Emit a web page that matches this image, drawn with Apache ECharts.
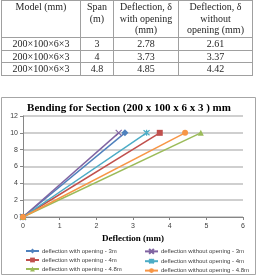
<!DOCTYPE html>
<html><head><meta charset="utf-8">
<script src="https://cdn.jsdelivr.net/npm/echarts@6/dist/echarts.min.js"></script>
<style>
html,body{margin:0;padding:0;background:#fff;width:258px;height:278px;overflow:hidden}
#chart{position:absolute;left:0;top:0;width:258px;height:278px}
#tbl{position:absolute;left:1px;top:0;border-collapse:collapse;font-family:'Liberation Serif','Times New Roman',serif;font-size:10px;color:#262626;z-index:2}
#tbl td{border:1px solid #a0a0a0;text-align:center;padding:0;line-height:11.5px}
#tbl tr.h td{vertical-align:top;height:36px}
#tbl tr.d td{height:11px}
</style></head>
<body>
<div id="chart"></div>
<table id="tbl"></table>
<script>
// ---- data ----
const models = ['200×100×6×3', '200×100×6×3', '200×100×6×3'];
const spans = [3, 4, 4.8];
const spanLabels = ['3m', '4m', '4.8m'];
const withOpening = [2.78, 3.73, 4.85];
const withoutOpening = [2.61, 3.37, 4.42];
const loads = [0, 10];
const headers = ['Model (mm)', 'Span<br>(m)', 'Deflection, δ<br>with opening<br>(mm)', 'Deflection, δ<br>without<br>opening (mm)'];
const xTicks = [0, 1, 2, 3, 4, 5, 6];
const yTicks = [0, 2, 4, 6, 8, 10, 12];

// ---- table ----
const colW = [79, 33, 65, 74];
let html = '<tr class="h">' + headers.map((h, i) => `<td style="width:${colW[i]-1}px">${h}</td>`).join('') + '</tr>';
for (let i = 0; i < models.length; i++) {
  html += `<tr class="d"><td>${models[i]}</td><td>${spans[i]}</td><td>${withOpening[i].toFixed(2)}</td><td>${withoutOpening[i].toFixed(2)}</td></tr>`;
}
document.getElementById('tbl').innerHTML = html;

// ---- chart ----
const colors = {
  with: ['#4F81BD', '#C0504D', '#9BBB59'],
  without: ['#8064A2', '#4BACC6', '#F79646']
};
const xPath = 'path://M0,0L10,10M10,0L0,10';
const starPath = 'path://M0,0L10,10M10,0L0,10M5,-1L5,11';
const withSymbols = ['diamond', 'rect', 'triangle'];
const withoutSymbols = [xPath, starPath, 'circle'];

const series = [];
const withNames = [], withoutNames = [];
for (let i = 0; i < spans.length; i++) {
  const n1 = 'deflection with opening - ' + spanLabels[i];
  const n2 = 'deflection without opening - ' + spanLabels[i];
  withNames.push(n1); withoutNames.push(n2);
  series.push({
    name: n1, type: 'line', data: [[0, loads[0]], [withOpening[i], loads[1]]],
    symbol: withSymbols[i], symbolSize: i === 0 ? 7 : 6,
    lineStyle: { color: colors.with[i], width: 1.5 },
    itemStyle: { color: colors.with[i] }
  });
  series.push({
    name: n2, type: 'line', data: [[0, loads[0]], [withoutOpening[i], loads[1]]],
    symbol: withoutSymbols[i], symbolSize: 6,
    lineStyle: { color: colors.without[i], width: 1.5 },
    itemStyle: { color: colors.without[i], borderColor: colors.without[i], borderWidth: i === 2 ? 0 : 1.2 }
  });
}

const chart = echarts.init(document.getElementById('chart'), null, { renderer: 'canvas' });
const legendCommon = {
  orient: 'vertical', top: 248, height: 30, padding: 0, itemWidth: 13, itemHeight: 6, itemGap: 3,
  textStyle: { fontSize: 6, color: '#404040', fontFamily: 'Liberation Sans', padding: [0, 0, 0, -2] }
};
chart.setOption({
  animation: false,
  title: {
    text: 'Bending for Section (200 x 100 x 6 x 3 ) mm', left: 'center', top: 103, padding: 0,
    textStyle: { fontFamily: 'Liberation Serif', fontWeight: 'bold', fontSize: 11, color: '#000' }
  },
  graphic: [{
    type: 'rect', shape: { x: 1.5, y: 97.5, width: 254, height: 177 },
    style: { fill: null, stroke: '#a6a6a6', lineWidth: 1 }, z: -1
  }],
  grid: { left: 23, right: 15, top: 116, bottom: 61, containLabel: false, outerBoundsMode: 'none' },
  xAxis: {
    type: 'value', min: xTicks[0], max: xTicks[xTicks.length - 1], interval: 1,
    name: 'Deflection (mm)', nameLocation: 'middle', nameGap: 17,
    nameTextStyle: { fontFamily: 'Liberation Serif', fontWeight: 'bold', fontSize: 9, color: '#000' },
    axisLine: { show: true, lineStyle: { color: '#868686', width: 1 } },
    axisTick: { show: true, length: 3, lineStyle: { color: '#868686' } },
    axisLabel: { fontSize: 7, color: '#404040', fontFamily: 'Liberation Sans', margin: 6 },
    splitLine: { show: false }
  },
  yAxis: {
    type: 'value', min: yTicks[0], max: yTicks[yTicks.length - 1], interval: 2,
    name: 'Load,P (kN)', nameLocation: 'middle', nameGap: 16,
    nameTextStyle: { fontFamily: 'Liberation Serif', fontWeight: 'bold', fontSize: 8, color: '#000' },
    axisLine: { show: true, lineStyle: { color: '#868686', width: 1 } },
    axisTick: { show: true, length: 3, lineStyle: { color: '#868686' } },
    axisLabel: { fontSize: 7, color: '#404040', fontFamily: 'Liberation Sans', margin: 5 },
    splitLine: { show: true, lineStyle: { color: '#bfbfbf', width: 1.5 } }
  },
  legend: [
    Object.assign({}, legendCommon, { left: 25, data: withNames }),
    Object.assign({}, legendCommon, { left: 144, data: withoutNames })
  ],
  series: series
});
</script>
</body></html>
